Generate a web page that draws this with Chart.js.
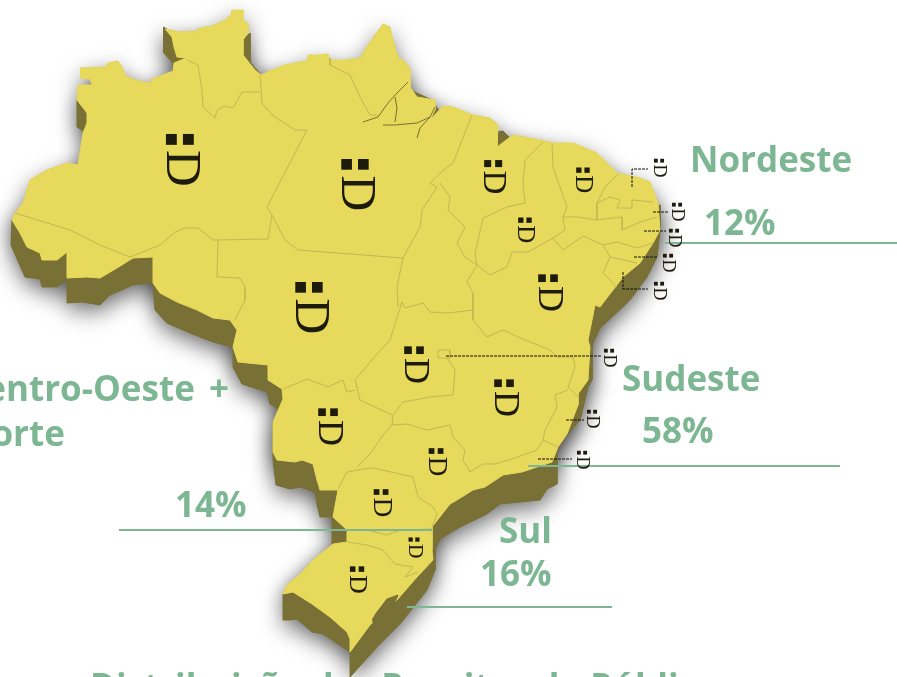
<!DOCTYPE html>
<html lang="pt-BR">
<head>
<meta charset="UTF-8">
<title>Distribuição regional</title>
<script src="https://cdn.jsdelivr.net/npm/chart.js"></script>
<style>
    html, body { margin: 0; padding: 0; background: #fff; }
    #wrap { width: 897px; height: 677px; overflow: hidden; }
</style>
</head>
<body>
<div id="wrap"><canvas id="mapa" width="897" height="677"></canvas></div>
<script>
// contorno do pais (unidades do eixo = unidades da figura)
const contorno = [[80,68],[106,67],[108,63],[118,61],[122,67],[126,76],[135,80],[143,82],[151,83],[152,79],[160,76],[173,71],[174,63],[186,58],[177,57],[174,47],[172,37],[165,29],[170,30],[180,32],[195,31],[197,36],[197,29],[215,25],[225,20],[231,15],[232,10],[243,10],[243,20],[248,24],[248,33],[243,40],[243,55],[247,60],[255,70],[261,75],[270,71],[285,65],[300,62],[307,61],[308,55],[320,55],[328,54],[330,60],[345,60],[360,58],[368,45],[375,35],[383,24],[390,27],[393,40],[398,57],[405,62],[410,68],[410,87],[417,97],[435,100],[435,110],[430,120],[443,106],[453,107],[473,115],[490,118],[498,125],[497,147],[513,135],[540,140],[553,143],[573,143],[597,153],[617,173],[640,178],[650,182],[658,203],[660,230],[653,243],[640,263],[623,277],[613,290],[600,307],[595,305],[592,320],[588,340],[590,347],[588,380],[578,394],[578,405],[567,434],[558,447],[552,462],[522,472],[503,475],[485,487],[473,490],[457,500],[450,504],[432,527],[432,550],[433,560],[417,577],[397,600],[370,625],[350,652],[350,639],[347,632],[330,617],[312,604],[293,592],[283,594],[287,585],[300,574],[313,560],[333,544],[347,542],[347,530],[333,517],[338,490],[320,490],[317,480],[313,464],[302,460],[295,462],[277,460],[273,452],[273,422],[283,399],[282,389],[268,380],[268,365],[238,362],[233,347],[237,330],[230,320],[213,318],[197,310],[177,302],[160,293],[153,283],[153,257],[133,258],[117,268],[100,278],[87,277],[67,278],[67,252],[57,260],[42,260],[40,253],[27,247],[20,233],[12,220],[15,213],[23,203],[27,190],[30,180],[47,170],[67,163],[78,165],[83,133],[87,123],[87,113],[77,100],[78,85],[92,85],[90,79],[80,78]];

// contorno do relevo escuro, por baixo do mapa
const relevo = [[163,27],[167,29],[180,40],[243,40],[250,33],[250,62],[262,76],[400,70],[410,90],[432,100],[437,108],[440,112],[435,125],[480,135],[503,131],[512,140],[600,170],[650,205],[660,205],[660,230],[657,257],[647,277],[630,300],[612,317],[600,328],[592,345],[592,380],[588,387],[580,420],[563,440],[557,450],[557,484],[547,489],[540,500],[500,504],[487,514],[460,527],[440,539],[435,550],[435,570],[427,590],[400,624],[377,647],[350,677],[350,652],[323,634],[312,632],[297,619],[290,620],[283,620],[283,594],[333,544],[332,544],[332,517],[328,517],[320,517],[317,504],[315,492],[300,487],[290,489],[276,485],[273,460],[273,422],[284,399],[280,410],[270,404],[267,392],[242,384],[233,367],[233,347],[213,342],[190,333],[167,323],[155,310],[153,283],[133,285],[110,295],[100,305],[83,302],[67,303],[67,280],[57,287],[42,287],[40,279],[25,277],[11,245],[12,220],[50,190],[95,150],[95,125],[83,131],[77,127],[77,100],[95,100],[95,75],[100,75],[150,90],[175,75],[173,72],[173,63],[163,52]];

// divisas entre estados
const divisas = [
    [[15,213],[70,230],[100,245],[130,257],[160,245],[175,232],[185,228],[198,228],[213,240],[218,240],[217,277],[240,278],[245,287],[245,300],[235,320]],
    [[217,240],[268,239],[272,215],[267,207],[307,130],[295,130],[272,115],[262,103],[260,75]],
    [[187,60],[198,65],[202,90],[203,107],[215,118],[217,110],[225,106],[233,108],[242,92],[260,92]],
    [[272,215],[285,240],[298,250],[403,258],[420,227],[422,210],[437,187],[430,183],[440,173],[453,163],[472,115]],
    [[330,58],[330,65],[350,75],[360,97],[370,115],[378,115]],
    [[403,258],[397,287],[398,307]],
    [[440,183],[450,197],[448,210],[465,227],[457,243],[465,257],[477,265],[467,282],[473,293],[473,310],[448,313],[430,312],[423,303],[405,308],[402,302],[390,340]],
    [[543,142],[525,160],[523,183],[525,203],[507,207],[483,218],[475,253],[477,265],[490,275],[507,267],[512,252],[528,252],[553,238],[563,250],[583,236],[603,245],[617,242],[637,248],[653,243]],
    [[552,143],[553,167],[567,207],[563,217],[565,230],[553,238]],
    [[563,217],[577,217],[597,220],[613,218],[622,217],[622,230],[640,222],[657,217]],
    [[617,175],[605,187],[597,203],[597,220]],
    [[597,203],[610,197],[620,200],[617,208],[632,208],[632,200],[653,202]],
    [[603,245],[610,257],[637,263]],
    [[610,257],[603,273],[617,287]],
    [[473,310],[473,320],[487,337],[503,330],[525,340],[550,350],[557,357],[573,357],[575,367],[568,387],[578,397]],
    [[555,395],[568,390]],
    [[555,395],[557,407],[553,415],[545,430],[543,440],[558,447]],
    [[543,440],[537,450],[512,459],[495,464],[483,464],[470,472],[463,460],[465,450],[453,437],[450,425],[427,430],[407,424],[392,425],[383,435],[370,454],[357,467]],
    [[392,425],[393,415],[403,402],[430,397],[453,395],[455,370],[447,358]],
    [[390,340],[377,354],[355,380],[360,400],[392,415]],
    [[283,389],[307,379],[328,387],[343,380],[347,392],[355,390]],
    [[338,489],[347,472],[363,469],[373,468],[400,474],[413,477],[418,497],[433,507],[437,514],[432,527]],
    [[347,530],[367,530],[387,535],[400,530],[432,529]],
    [[347,542],[367,545],[383,550],[395,564],[413,567],[405,577],[418,572]],
    [[438,350],[450,350],[450,358],[438,358],[438,350]]
];

// lagoa e ilhas da foz
const lagoa = [[372,620],[377,612],[387,599],[398,595],[392,609],[373,624]];
const foz = [
    [[363,122],[378,117],[388,103],[397,93],[408,82]],
    [[383,125],[395,125],[417,123],[430,117],[435,107]],
    [[395,97],[397,108],[395,122]],
    [[417,138],[420,128],[430,117]]
];

// linhas verdes sob cada regiao
const linhasRegiao = [
    [[665,243],[897,243]],
    [[528,466],[840,466]],
    [[119,530],[432,530]],
    [[407,607],[612,607]]
];

// tracos pontilhados ate os rotulos pequenos
const chamadas = [
    [[632,187],[632,169],[648,169]],
    [[653,212],[668,212]],
    [[644,231],[666,231]],
    [[634,257],[658,257]],
    [[623,272],[623,289],[648,289]],
    [[446,356],[601,356]],
    [[566,420],[584,420]],
    [[538,459],[572,459]]
];

// estados: centro e corpo do rotulo
const estadosX = [180,355,309,548,504,414,328,436,381,414,357,493,525,583,659,677,674,668,659,609,592,582];
const estadosY = [160,185,308,293,398,365,427,462,503,548,580,177,230,180,168,212,238,263,291,358,419,460];
const estadosTam = [51,50,50,36,36,36,36,27,27,20,26,33,25,25,18,18,18,18,18,18,18,18];
const letraEstado = "D";
const pontoEstado = "■";

const textosRegiao = ["Nordeste","12%","Sudeste","58%","Centro-Oeste","+","Norte","14%","Sul","16%","Distribuição das Receitas do Público"];
const textosX = [690,704,622,642,-37,209,-37,175,499,480,90];
const textosY = [172,235,391,443,401,401,446,517,543,586,699];

const AMARELO = "#e6d95c", ESCURO = "#787034", DIVISA = "#c4b752", VERDE = "#7cb692", TINTA = "#1d1b0c";

function pontos(lista) {
    return lista.map(p => ({ x: p[0], y: p[1] }));
}
function area(lista, cor) {
    return { data: pontos(lista), showLine: true, fill: "shape", backgroundColor: cor, borderColor: cor, borderWidth: 1, pointRadius: 0, tension: 0 };
}
function linha(lista, cor, larg, traco) {
    return { data: pontos(lista), showLine: true, fill: false, borderColor: cor, borderWidth: larg, borderDash: traco || [], pointRadius: 0, tension: 0 };
}

// Chart.js pinta o primeiro dataset por cima, por isso a lista vai do topo para o fundo
const datasets = [];
chamadas.forEach(d => datasets.push(linha(d, "#111", 1, [3, 1])));
linhasRegiao.forEach(d => datasets.push(linha(d, VERDE, 1.8)));
datasets.push(area(lagoa, ESCURO));
foz.forEach(d => datasets.push(linha(d, ESCURO, 1)));
divisas.forEach(d => datasets.push(linha(d, DIVISA, 1)));
datasets.push(area(contorno, AMARELO));
datasets.push(area(relevo, ESCURO));

// sombra suave do relevo, desenhada antes dos datasets
const sombra = {
    id: "sombra",
    beforeDatasetsDraw(chart) {
        const { ctx, scales: { x, y } } = chart;
        ctx.save();
        ctx.shadowColor = "rgba(0,0,0,0.55)";
        ctx.shadowBlur = 22;
        ctx.shadowOffsetY = 8;
        ctx.fillStyle = ESCURO;
        [relevo, contorno].forEach(lista => {
            ctx.beginPath();
            lista.forEach((p, i) => {
                if (i === 0) ctx.moveTo(x.getPixelForValue(p[0]), y.getPixelForValue(p[1]));
                else ctx.lineTo(x.getPixelForValue(p[0]), y.getPixelForValue(p[1]));
            });
            ctx.closePath();
            ctx.fill();
        });
        ctx.restore();
    }
};

// rotulos de texto
const rotulos = {
    id: "rotulos",
    afterDatasetsDraw(chart) {
        const { ctx, scales: { x, y } } = chart;
        ctx.save();
        ctx.fillStyle = TINTA;
        ctx.textAlign = "center";
        ctx.textBaseline = "middle";
        estadosX.forEach((ex, i) => {
            const t = estadosTam[i];
            const px = x.getPixelForValue(ex), py = y.getPixelForValue(estadosY[i]);
            ctx.font = (t * 0.28) + 'px "DejaVu Sans"';
            ctx.fillText(pontoEstado, px - t * 0.167, py - t * 0.41);
            ctx.fillText(pontoEstado, px + t * 0.167, py - t * 0.41);
            ctx.save();
            ctx.translate(px, py + t * 0.167);
            ctx.rotate(Math.PI / 2);
            ctx.font = t + 'px "Liberation Serif"';
            ctx.fillText(letraEstado, 0, 0);
            ctx.restore();
        });
        ctx.fillStyle = VERDE;
        ctx.textAlign = "left";
        ctx.textBaseline = "alphabetic";
        ctx.font = '700 35px "Open Sans"';
        textosRegiao.forEach((t, i) => {
            ctx.fillText(t, x.getPixelForValue(textosX[i]), y.getPixelForValue(textosY[i]));
        });
        ctx.restore();
    }
};

new Chart(document.getElementById("mapa"), {
    type: "scatter",
    data: { datasets: datasets },
    options: {
        responsive: false,
        animation: false,
        layout: { padding: 0 },
        plugins: { legend: { display: false }, tooltip: { enabled: false } },
        scales: {
            x: { type: "linear", min: 0, max: 897, display: false },
            y: { type: "linear", min: 0, max: 677, reverse: true, display: false }
        }
    },
    plugins: [sombra, rotulos]
});
</script>
</body>
</html>
